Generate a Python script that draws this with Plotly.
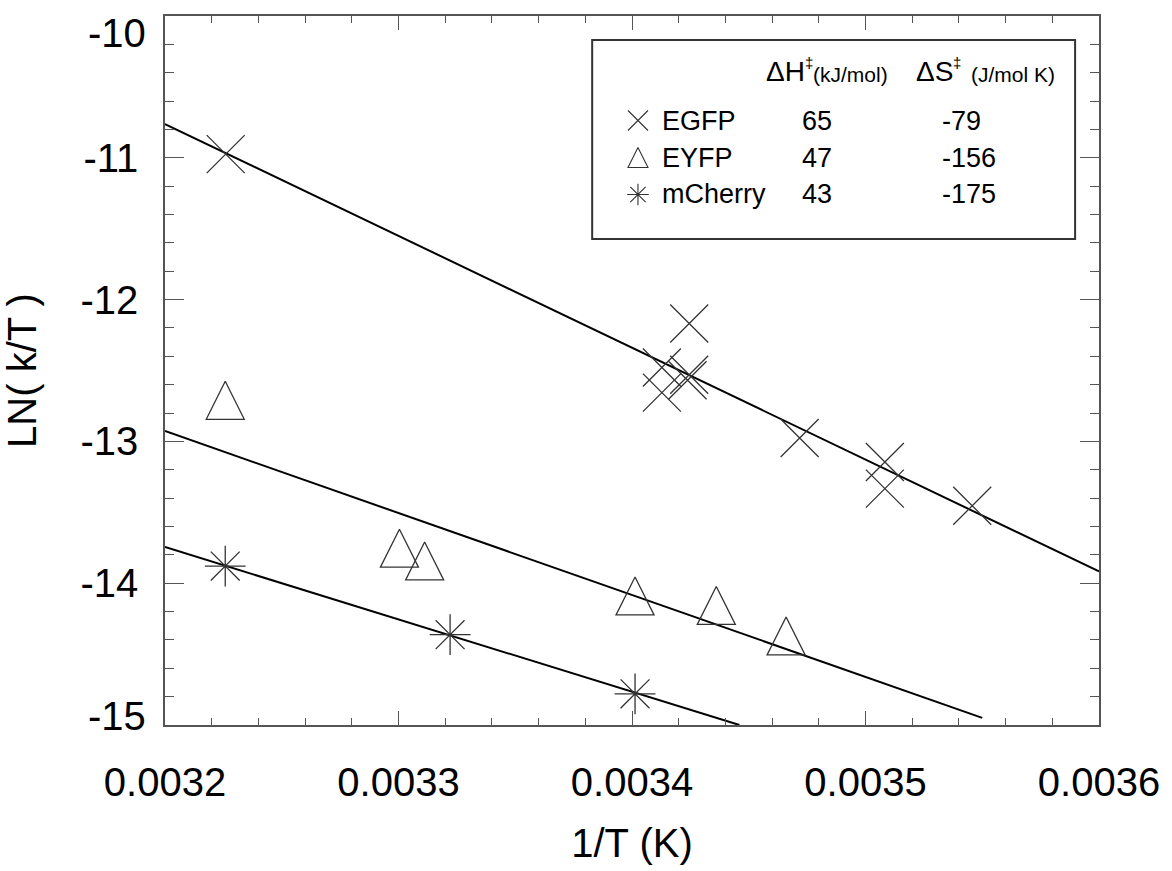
import plotly.graph_objects as go

# ---------------- data ----------------
egfp_x = [0.003226, 0.0034245, 0.0034128, 0.0034128, 0.0034245, 0.0034238,
          0.0034718, 0.0035083, 0.0035083, 0.0035457]
egfp_y = [-10.974, -12.169, -12.479, -12.656, -12.530, -12.569,
          -12.976, -13.145, -13.333, -13.454]

eyfp_x = [0.0032258, 0.0033004, 0.0033112, 0.0034013, 0.0034361, 0.003466]
eyfp_y = [-12.710, -13.753, -13.843, -14.090, -14.157, -14.372]

mcherry_x = [0.0032258, 0.0033221, 0.0034013]
mcherry_y = [-13.879, -14.363, -14.780]

fit_egfp_x = [0.0032, 0.0036]
fit_egfp_y = [-10.762, -13.917]
fit_eyfp_x = [0.0032, 0.00355]
fit_eyfp_y = [-12.927, -14.95]
fit_mcherry_x = [0.0032, 0.003446]
fit_mcherry_y = [-13.745, -15.0]

names = ["EGFP", "EYFP", "mCherry"]
dH_vals = ["65", "47", "43"]
dS_vals = ["-79", "-156", "-175"]

x_tickvals = [0.0032, 0.0033, 0.0034, 0.0035, 0.0036]
x_ticktext = ["0.0032", "0.0033", "0.0034", "0.0035", "0.0036"]
y_tickvals = [-15, -14, -13, -12, -11, -10]
y_ticktext = ["-15", "-14", "-13", "-12", "-11", "-10"]
x_minor_per_major = 5
y_minor_per_major = 5

# minor tick positions between the major ones
x_minor = [x_tickvals[i] + (x_tickvals[i + 1] - x_tickvals[i]) * k / x_minor_per_major
           for i in range(len(x_tickvals) - 1) for k in range(1, x_minor_per_major)]
y_minor = [y_tickvals[i] + (y_tickvals[i + 1] - y_tickvals[i]) * k / y_minor_per_major
           for i in range(len(y_tickvals) - 1) for k in range(1, y_minor_per_major)]

x_range = [x_tickvals[0], x_tickvals[-1]]
y_range = [y_tickvals[0], y_tickvals[-1]]

# ---------------- layout geometry ----------------
W, H = 1172, 871
ML, MR, MT, MB = 165, 69, 16, 146
PW, PH = W - ML - MR, H - MT - MB

def fx(px):
    return (px - ML) / PW

def fy(py):
    return 1 - (py - MT) / PH

FONT = "Liberation Sans, Arial, Helvetica, sans-serif"
AX = "#555555"
MK = "#333333"

fig = go.Figure()

# fit lines
for xs, ys in [(fit_egfp_x, fit_egfp_y), (fit_eyfp_x, fit_eyfp_y), (fit_mcherry_x, fit_mcherry_y)]:
    fig.add_trace(go.Scatter(x=xs, y=ys, mode="lines",
                             line=dict(color="black", width=2), showlegend=False,
                             hoverinfo="skip"))

# data points
fig.add_trace(go.Scatter(x=egfp_x, y=egfp_y, mode="markers", name=names[0],
                         marker=dict(symbol="x-thin-open", size=38, color=MK,
                                     line=dict(color=MK, width=1.3)),
                         showlegend=False))
fig.add_trace(go.Scatter(x=eyfp_x, y=eyfp_y, mode="markers", name=names[1],
                         marker=dict(symbol="arrow-down-open", angle=180, standoff=19, size=38,
                                     color=MK, line=dict(color=MK, width=1.3)),
                         showlegend=False))
fig.add_trace(go.Scatter(x=mcherry_x, y=mcherry_y, mode="markers", name=names[2],
                         marker=dict(symbol="asterisk-open", size=34, color=MK,
                                     line=dict(color=MK, width=1.3)),
                         showlegend=False))

# legend symbols (on hidden paper-like axes)
leg_sym_x = fx(640)
leg_rows_py = [120.5, 157.5, 194.5]
sym_specs = [
    dict(symbol="x-thin-open", size=20, color=MK, line=dict(color=MK, width=1.1)),
    dict(symbol="arrow-down-open", angle=180, standoff=10, size=20, color=MK,
         line=dict(color=MK, width=1.1)),
    dict(symbol="asterisk-open", size=18, color=MK, line=dict(color=MK, width=1.1)),
]
for py, spec in zip(leg_rows_py, sym_specs):
    fig.add_trace(go.Scatter(x=[leg_sym_x], y=[fy(py)], mode="markers", marker=spec,
                             xaxis="x2", yaxis="y2", showlegend=False, hoverinfo="skip"))

# invisible anchor trace for the minor-tick overlay axes
fig.add_trace(go.Scatter(x=[x_range[0]], y=[y_range[0]], mode="markers",
                         marker=dict(opacity=0, size=1), xaxis="x3", yaxis="y3",
                         showlegend=False, hoverinfo="skip"))

annotations = []
# legend header
hdr_y = fy(71)
annotations += [
    dict(x=fx(767), y=hdr_y, text="\u0394H", font=dict(size=28)),
    dict(x=fx(806), y=fy(62), text="\u2021", font=dict(size=15)),
    dict(x=fx(814), y=fy(75), text="(kJ/mol)", font=dict(size=21)),
    dict(x=fx(917), y=hdr_y, text="\u0394S", font=dict(size=28)),
    dict(x=fx(954), y=fy(62), text="\u2021", font=dict(size=15)),
    dict(x=fx(972), y=fy(75), text="(J/mol K)", font=dict(size=21)),
]
for py, nm, h, s in zip(leg_rows_py, names, dH_vals, dS_vals):
    annotations += [
        dict(x=fx(662), y=fy(py), text=nm, font=dict(size=27)),
        dict(x=fx(803), y=fy(py), text=h, font=dict(size=27)),
        dict(x=fx(943), y=fy(py), text=s, font=dict(size=27)),
    ]
for a in annotations:
    a.update(xref="paper", yref="paper", xanchor="left", yanchor="middle",
             showarrow=False)
    a["font"].update(family=FONT, color="black")

# end tick labels of y axis (shifted inward as in the reference)
for v, t, shift in [(y_tickvals[0], y_ticktext[0], 9), (y_tickvals[-1], y_ticktext[-1], -17)]:
    annotations.append(dict(x=0, xref="paper", y=v, yref="y", text=t, xanchor="right",
                            yanchor="middle", xshift=-17, yshift=shift, showarrow=False,
                            font=dict(family=FONT, size=40, color="black")))

y_ticktext_axis = [""] + y_ticktext[1:-1] + [""]

common = dict(showgrid=False, zeroline=False, showline=True, linecolor=AX, linewidth=1.5,
              mirror="ticks", ticks="inside", tickwidth=1.3, tickcolor=AX)

fig.update_layout(
    width=W, height=H,
    margin=dict(l=ML, r=MR, t=MT, b=MB),
    paper_bgcolor="white", plot_bgcolor="white",
    font=dict(family=FONT, color="black"),
    xaxis=dict(range=x_range, tickmode="array", tickvals=x_tickvals,
               ticktext=x_ticktext, ticklen=14,
               tickfont=dict(size=40, family=FONT, color="black"),
               ticklabelstandoff=21,
               title=dict(text="1/T (K)", font=dict(size=40, family=FONT, color="black"),
                          standoff=26), **common),
    yaxis=dict(range=y_range, tickmode="array", tickvals=y_tickvals,
               ticktext=y_ticktext_axis, ticklen=19,
               tickfont=dict(size=40, family=FONT, color="black"),
               ticklabelstandoff=17,
               title=dict(text="LN( k/T )", font=dict(size=40, family=FONT, color="black"),
                          standoff=37), **common),
    xaxis2=dict(overlaying="x", range=[0, 1], visible=False, anchor="y2"),
    yaxis2=dict(overlaying="y", range=[0, 1], visible=False, anchor="x2"),
    xaxis3=dict(overlaying="x", range=x_range, anchor="y3", tickmode="array",
                tickvals=x_minor, ticklen=7, showticklabels=False, **common),
    yaxis3=dict(overlaying="y", range=y_range, anchor="x3", tickmode="array",
                tickvals=y_minor, ticklen=9, showticklabels=False, **common),
    annotations=annotations,
    shapes=[dict(type="rect", xref="paper", yref="paper", x0=fx(594), x1=fx(1079),
                 y0=fy(239), y1=fy(40), line=dict(color="#333333", width=2),
                 fillcolor="rgba(0,0,0,0)")],
    showlegend=False,
)

fig.write_html("out.html")
